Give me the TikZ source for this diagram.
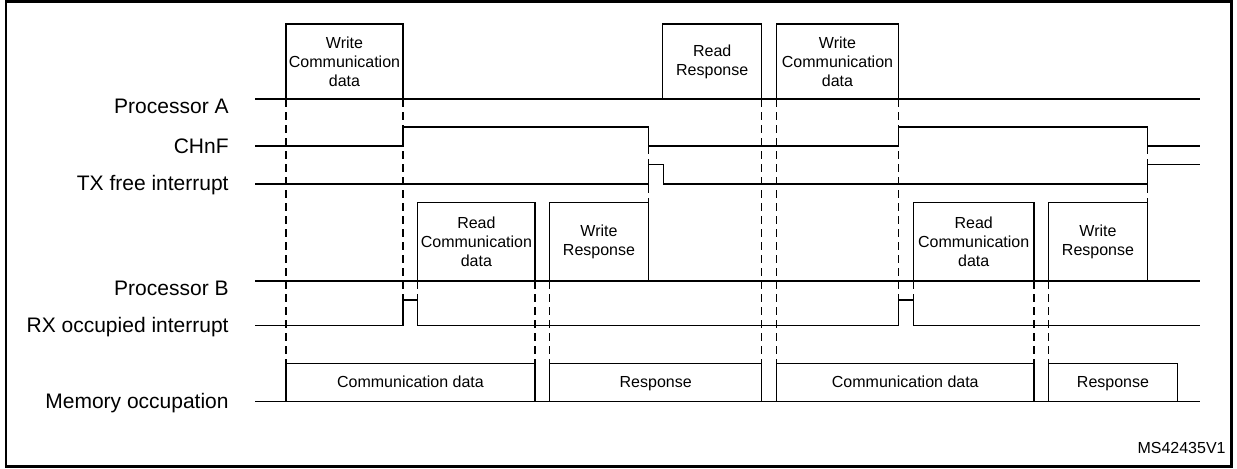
\documentclass[tikz,border=0pt]{standalone}
\usepackage{fontspec}
\setmainfont{Liberation Sans}
\usetikzlibrary{calc}

\begin{document}
\begin{tikzpicture}[x=0.5pt,y=-0.5pt,
        sig/.style={line width=0.65pt},
        guide/.style={line width=0.6pt, dash pattern=on 4pt off 2.5pt},
        lbl/.style={anchor=base east, inner sep=0pt, font=\fontsize{10.5}{12.6}\selectfont},
        txt/.style={align=center, inner sep=0pt, font=\fontsize{8}{9.5}\selectfont}]
        \useasboundingbox (0,0) rectangle (1237,468);

        % Frame
        \draw[line width=1.1pt] (6,1.5) rectangle (1231.5,466.5);

        % Signal names
        \node[lbl] (labA) at (229,113.5) {Processor A};
        \node[lbl] (labCH) at (229,153.5) {CHnF};
        \node[lbl] (labTX) at (229,190.5) {TX free interrupt};
        \node[lbl] (labB) at (229,295) {Processor B};
        \node[lbl] (labRX) at (229,332) {RX occupied interrupt};
        \node[lbl] (labMem) at (229,408) {Memory occupation};

        % Processor A
        \draw[sig] (255,99) -- (1200,99);
        \draw[sig] (286,99) rectangle (403,24);
        \node[txt] (wcd1) at (344.5,61.5) {Write\\Communication\\data};
        \draw[sig] (662.7,99) rectangle (761.7,24);
        \node[txt] (rr1) at (712.2,61.5) {Read\\Response};
        \draw[sig] (776.7,99) rectangle (898.3,24);
        \node[txt] (wcd2) at (837.5,61.5) {Write\\Communication\\data};

        % CHnF
        \draw[sig] (255,146) -- (403,146) -- (403,127) -- (648.3,127) -- (648.3,146)
                -- (898.3,146) -- (898.3,127) -- (1147.3,127) -- (1147.3,146) -- (1200,146);

        % TX free interrupt
        \draw[sig] (255,184) -- (648.3,184) -- (648.3,164.7) -- (663.3,164.7) -- (663.3,184)
                -- (1147.3,184) -- (1147.3,164.7) -- (1200,164.7);

        % Processor B
        \draw[sig] (255,281) -- (1200,281);
        \draw[sig] (417.7,281) rectangle (535,202.3);
        \node[txt] (rcd1) at (476.4,241.6) {Read\\Communication\\data};
        \draw[sig] (549.7,281) rectangle (648.3,202.3);
        \node[txt] (wr1) at (599,241.6) {Write\\Response};
        \draw[sig] (913.3,281) rectangle (1034,202.3);
        \node[txt] (rcd2) at (973.7,241.6) {Read\\Communication\\data};
        \draw[sig] (1048.7,281) rectangle (1147.3,202.3);
        \node[txt] (wr2) at (1098,241.6) {Write\\Response};

        % RX occupied interrupt
        \draw[sig] (255,325.3) -- (403,325.3) -- (403,300) -- (417.7,300) -- (417.7,325.3)
                -- (898.3,325.3) -- (898.3,300) -- (913.3,300) -- (913.3,325.3) -- (1200,325.3);

        % Memory occupation
        \draw[sig] (255,401.7) -- (1200,401.7);
        \draw[sig] (286,401.7) rectangle (535,363.3);
        \node[txt, anchor=base] (mcd1) at (410.5,387.5) {Communication data};
        \draw[sig] (549.7,401.7) rectangle (761.7,363.3);
        \node[txt, anchor=base] (mr1) at (655.7,387.5) {Response};
        \draw[sig] (776.7,401.7) rectangle (1034,363.3);
        \node[txt, anchor=base] (mcd2) at (905.3,387.5) {Communication data};
        \draw[sig] (1048.7,401.7) rectangle (1177.3,363.3);
        \node[txt, anchor=base] (mr2) at (1113,387.5) {Response};

        % Dashed guides
        \draw[guide] (286,99) -- (286,363.3);
        \draw[guide] (403,99) -- (403,300);
        \draw[guide] (417.7,281) -- (417.7,300);
        \draw[guide] (535,281) -- (535,363.3);
        \draw[guide] (549.7,281) -- (549.7,363.3);
        \draw[guide] (648.3,146) -- (648.3,202.3);
        \draw[guide] (761.7,99) -- (761.7,363.3);
        \draw[guide] (776.7,99) -- (776.7,363.3);
        \draw[guide] (898.3,99) -- (898.3,300);
        \draw[guide] (913.3,281) -- (913.3,300);
        \draw[guide] (1034,281) -- (1034,363.3);
        \draw[guide] (1048.7,281) -- (1048.7,363.3);
        \draw[guide] (1147.3,146) -- (1147.3,202.3);

        % Figure id
        \node[anchor=base east, inner sep=0pt, font=\fontsize{8}{9.5}\selectfont] (msid) at (1226,453.3) {MS42435V1};
    \end{tikzpicture}
\end{document}
